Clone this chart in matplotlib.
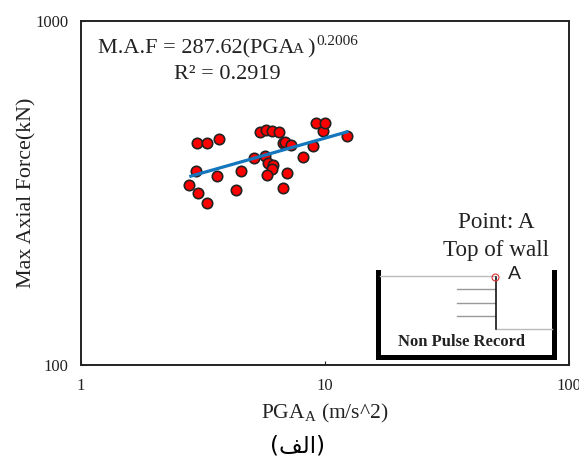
import matplotlib
matplotlib.use('Agg')
import matplotlib.pyplot as plt

plt.rcParams['font.family'] = ['Liberation Serif', 'DejaVu Sans']
plt.rcParams['mathtext.fontset'] = 'custom'
plt.rcParams['mathtext.rm'] = 'Liberation Serif'

# values
pga = [2.98, 3.28, 3.67, 2.96, 2.78, 3.01, 3.29, 3.60, 4.30, 4.53, 5.12,
       5.41, 5.73, 6.05, 6.48, 5.66, 5.86, 6.14, 6.05, 5.79, 6.97, 6.75,
       6.75, 6.86, 7.23, 8.10, 8.93, 9.81, 9.21, 9.97, 12.3]
max_force = [443, 443, 453, 367, 333, 316, 296, 355, 323, 367, 399,
             476, 482, 478, 475, 405, 387, 381, 371, 357, 362, 327,
             441, 446, 435, 402, 434, 479, 506, 506, 464]
trend_x = [2.82, 12.3]
trend_y = [354, 476]
x_ticks = [1, 10, 100]
y_ticks = [100, 1000]

W, H = 579, 461
fig = plt.figure(figsize=(W / 100, H / 100), dpi=100)

# main log-log chart
ax = fig.add_axes([81 / W, 1 - 365 / H, 488 / W, 344 / H])
ax.set_xscale('log')
ax.set_yscale('log')
ax.set_xlim(1, 100)
ax.set_ylim(100, 1000)
ax.scatter(pga, max_force, s=56, c='#ff0000', edgecolors='#222222', linewidths=1.2, zorder=2)
ax.plot(trend_x, trend_y, color='#1477bd', lw=2.3, zorder=3)
ax.set_xticks(x_ticks)
ax.set_xticklabels([str(v) for v in x_ticks])
ax.set_yticks(y_ticks)
ax.set_yticklabels([str(v) for v in y_ticks])
ax.minorticks_off()
ax.tick_params(axis='both', direction='in', length=3, width=0.8, labelsize=12, pad=9, colors='#222222')
for s in ax.spines.values():
    s.set_linewidth(1.4)
    s.set_color('#222222')

# overlay in pixel coordinates for the text and the wall sketch
ov = fig.add_axes([0, 0, 1, 1])
ov.set_xlim(0, W)
ov.set_ylim(H, 0)
ov.axis('off')
ov.patch.set_alpha(0)

tc = '#222222'
ov.text(27, 193, 'Max Axial Force(kN)', fontsize=15.8, rotation=90, ha='center', va='center', color=tc)
ov.text(325, 413, r'PGA$_{\mathrm{A}}$ (m/s^2)', fontsize=15.5, ha='center', va='center', color=tc)
ov.text(298, 446, '(\ufed2\ufedf\ufe8d)', fontsize=16.5, ha='center', va='center',
        family=['DejaVu Sans'], color='black')

# equation pieces
ov.text(98, 53, 'M.A.F = 287.62(PGA', fontsize=16, ha='left', va='baseline', color=tc)
ov.text(293, 53, 'A', fontsize=11, ha='left', va='baseline', color=tc)
ov.text(307, 53, ')', fontsize=16, ha='left', va='baseline', color=tc)
ov.text(316, 45, '0.2006', fontsize=11, ha='left', va='baseline', color=tc)
ov.text(227, 79, 'R² = 0.2919', fontsize=16, ha='center', va='baseline', color=tc)

# sketch
ov.text(496, 222, 'Point: A', fontsize=16.7, ha='center', va='center', color=tc)
ov.text(496, 250, 'Top of wall', fontsize=16.7, ha='center', va='center', color=tc)
ov.plot([378, 378, 554, 554], [272, 357, 357, 272], color='black', lw=3.6, solid_joinstyle='miter')
ov.plot([380, 495], [276, 276], color='#bbbbbb', lw=1)
for y in [289, 302.5, 315.5]:
    ov.plot([457, 495], [y, y], color='#999999', lw=1)
ov.plot([496, 552], [329, 329], color='#bbbbbb', lw=1)
ov.plot([496, 496], [277, 329], color='black', lw=1.1)
ov.plot([495], [276.5], 'o', ms=5, mfc='none', mec='#e03030', mew=0.8)
ov.text(514, 274, 'A', fontsize=14, ha='center', va='center', family=['Liberation Sans'], color=tc)
ov.text(462, 342, 'Non Pulse Record', fontsize=12, weight='bold', ha='center', va='center', color=tc)

fig.savefig('out.png', dpi=100)
